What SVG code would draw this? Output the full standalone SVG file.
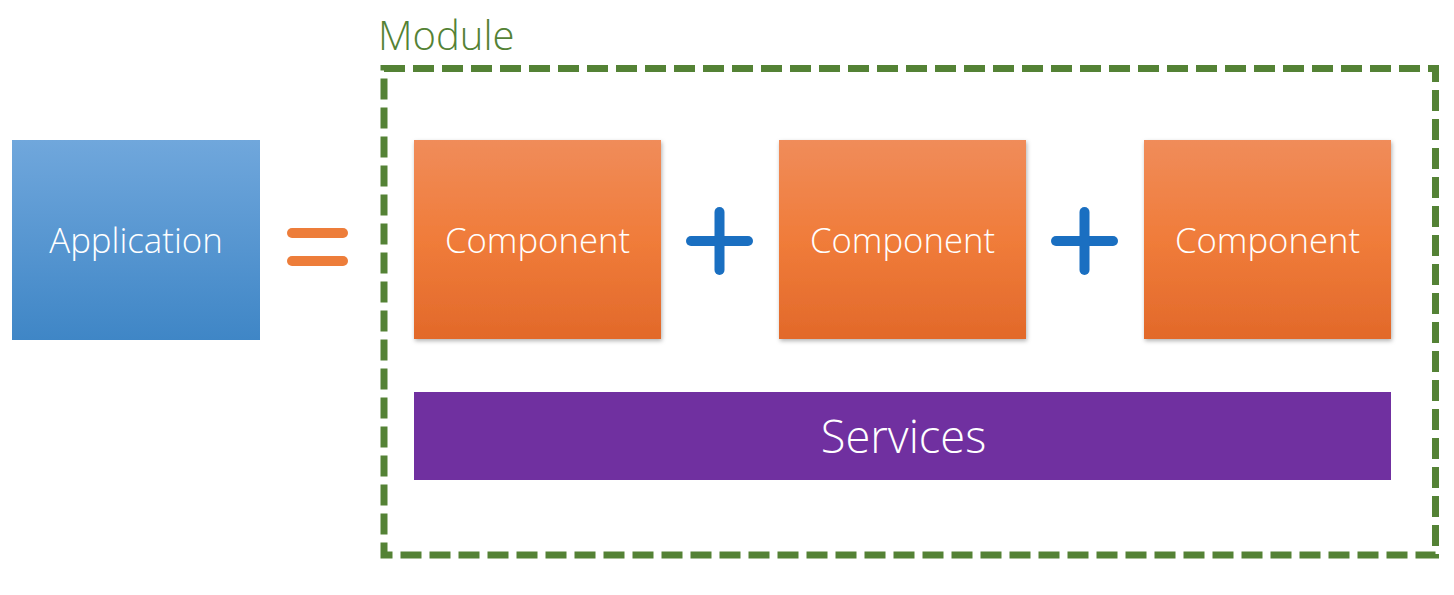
<svg xmlns="http://www.w3.org/2000/svg" width="1454" height="595" viewBox="0 0 1454 595">
  <defs>
    <linearGradient id="gBlue" x1="0" y1="0" x2="0" y2="1">
      <stop offset="0" stop-color="#70a7dc"/>
      <stop offset="1" stop-color="#3f86c6"/>
    </linearGradient>
    <linearGradient id="gOrange" x1="0" y1="0" x2="0" y2="1">
      <stop offset="0" stop-color="#f08c5a"/>
      <stop offset="0.5" stop-color="#f07c3a"/>
      <stop offset="1" stop-color="#e2692a"/>
    </linearGradient>
    <filter id="shadow" x="-10%" y="-10%" width="120%" height="120%">
      <feDropShadow dx="1" dy="2" stdDeviation="2" flood-color="#000" flood-opacity="0.3"/>
    </filter>
  </defs>
  <style>
    .lbl { font-family: "Open Sans", "Liberation Sans", sans-serif; font-weight: 300; fill: #ffffff; text-anchor: middle; }
    .comp { fill: url(#gOrange); filter: url(#shadow); }
    .plus { stroke: #1a6fc1; stroke-width: 10; stroke-linecap: round; fill: none; }
    .eq { stroke: #ed7d3a; stroke-width: 10; stroke-linecap: round; fill: none; }
  </style>
  <rect width="1454" height="595" fill="#ffffff"/>

  <g id="application">
    <rect x="12" y="140" width="248" height="200" fill="url(#gBlue)"/>
    <text class="lbl" x="136" y="253" font-size="34.8">Application</text>
  </g>

  <g id="equals">
    <line class="eq" x1="292" y1="233" x2="343" y2="233"/>
    <line class="eq" x1="292" y1="261" x2="343" y2="261"/>
  </g>

  <g id="module">
    <text x="378" y="50" font-family="Open Sans, Liberation Sans, sans-serif" font-weight="300" font-size="40" fill="#548235">Module</text>
    <rect x="384" y="68.5" width="1051.5" height="486.5" fill="none" stroke="#548235" stroke-width="7" stroke-dasharray="21 8"/>
  </g>

  <g id="component1">
    <rect class="comp" x="414" y="140" width="247" height="199"/>
    <text class="lbl" x="537.5" y="253" font-size="34.7">Component</text>
  </g>
  <g id="plus1">
    <line class="plus" x1="691" y1="241" x2="748" y2="241"/>
    <line class="plus" x1="719.5" y1="212" x2="719.5" y2="270"/>
  </g>
  <g id="component2">
    <rect class="comp" x="779" y="140" width="247" height="199"/>
    <text class="lbl" x="902.5" y="253" font-size="34.7">Component</text>
  </g>
  <g id="plus2">
    <line class="plus" x1="1056" y1="241" x2="1113" y2="241"/>
    <line class="plus" x1="1084.5" y1="212" x2="1084.5" y2="270"/>
  </g>
  <g id="component3">
    <rect class="comp" x="1144" y="140" width="247" height="199"/>
    <text class="lbl" x="1267.5" y="253" font-size="34.7">Component</text>
  </g>

  <g id="services">
    <rect x="414" y="392" width="977" height="88" fill="#7030a0"/>
    <text class="lbl" x="903.5" y="453" font-size="45.2">Services</text>
  </g>

  <g id="connectors"/>
</svg>
